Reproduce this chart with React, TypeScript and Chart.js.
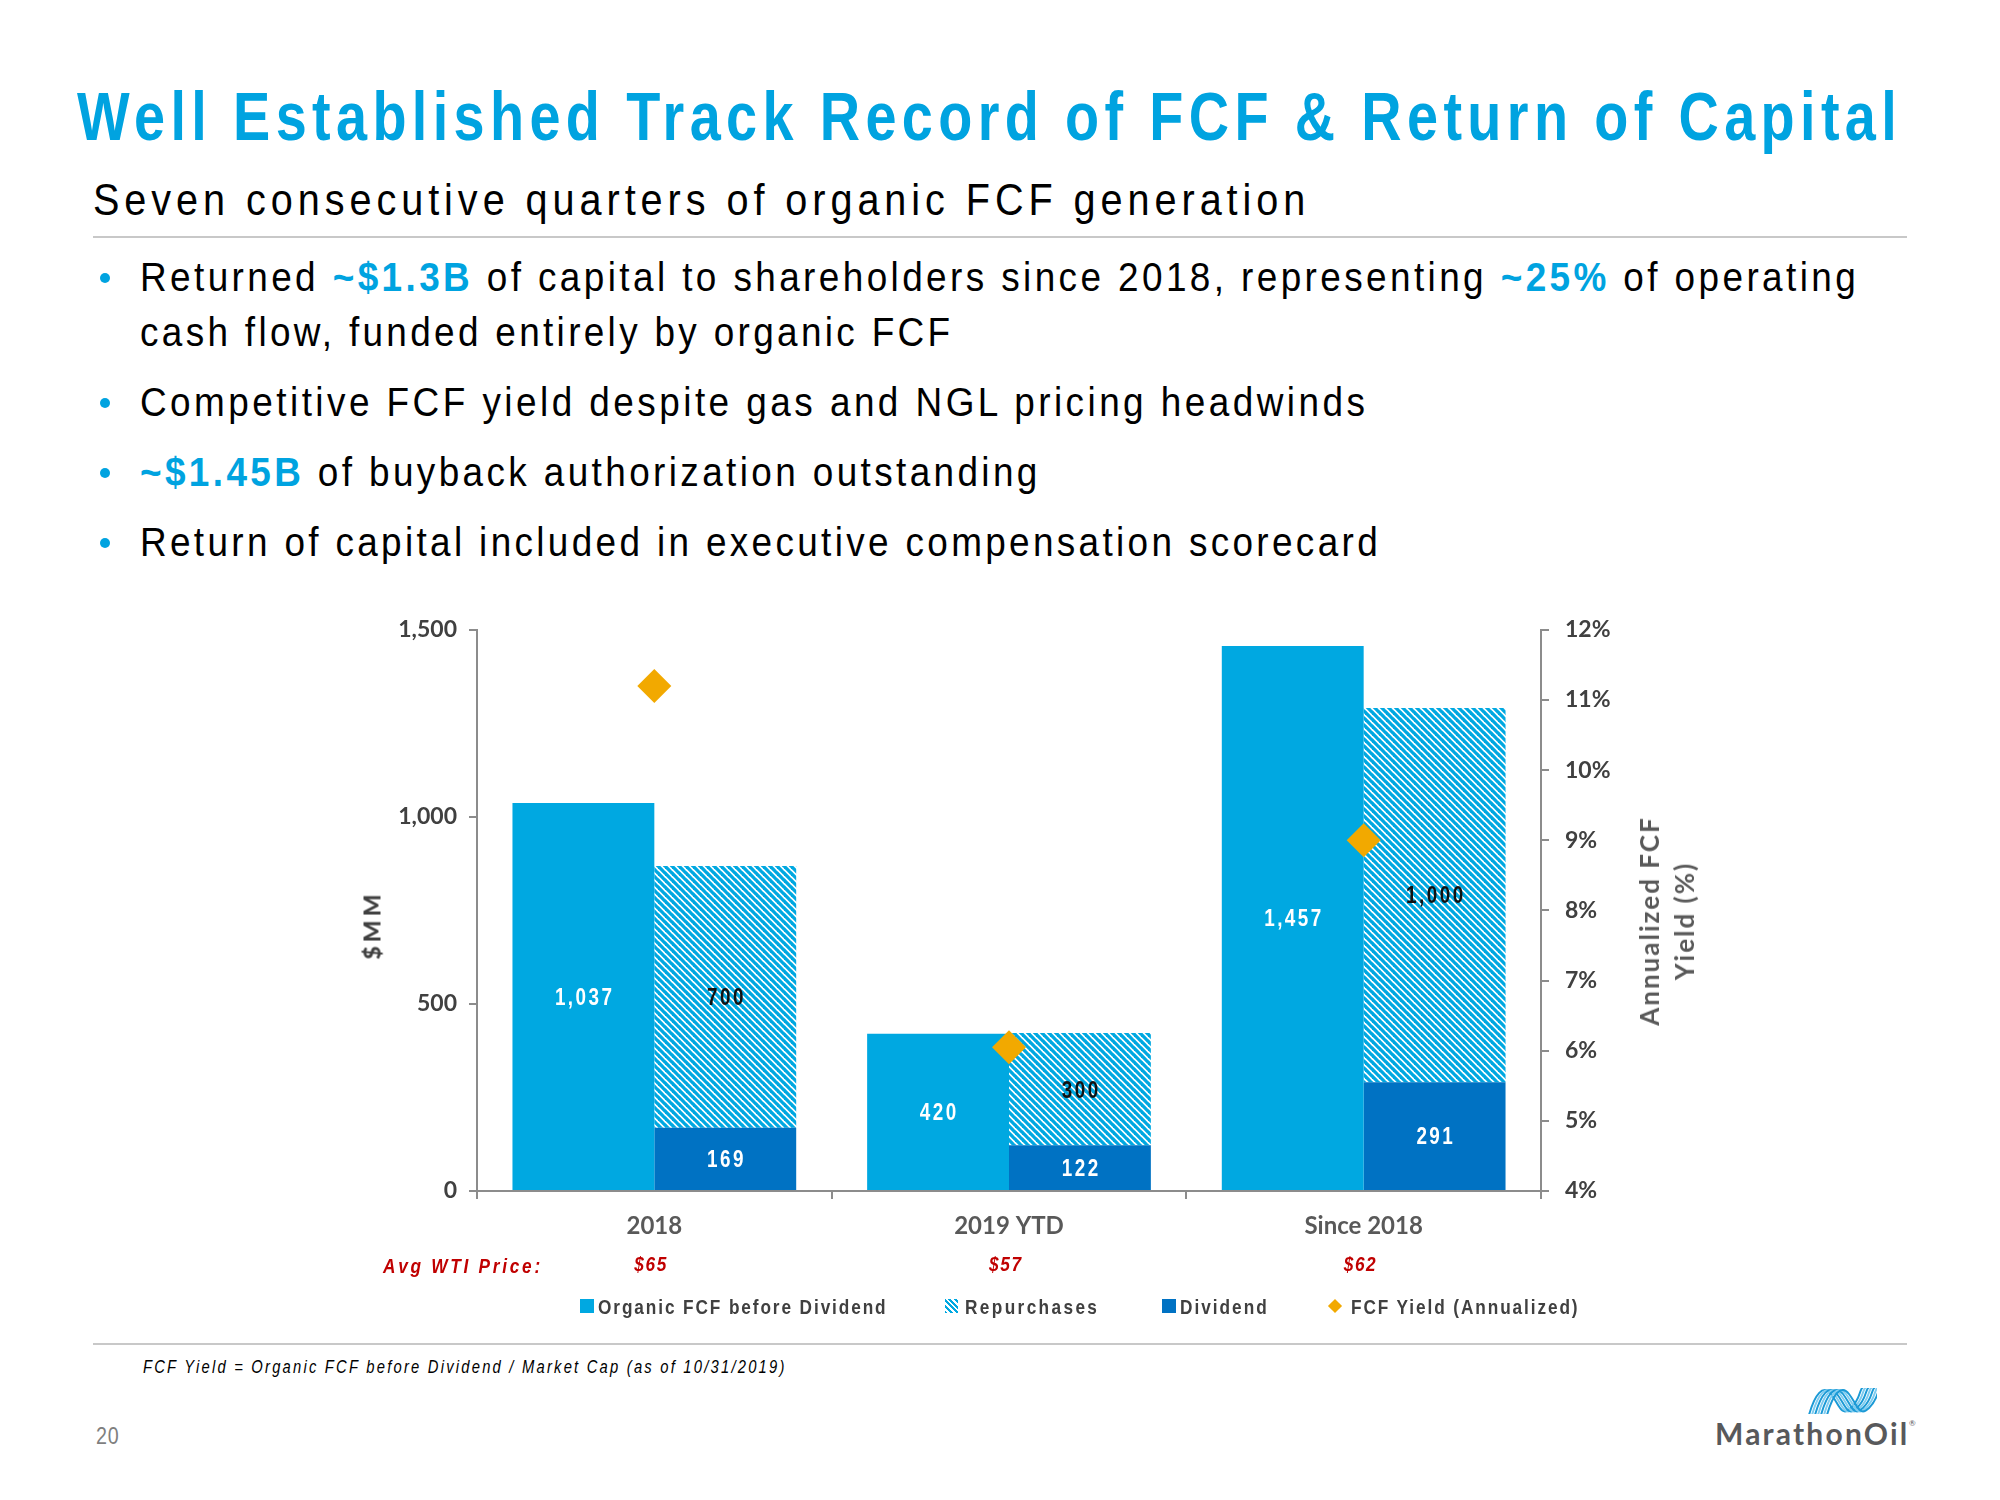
import React, { useEffect, useLayoutEffect, useRef } from "react";
import { Chart, registerables } from "chart.js";

Chart.register(...registerables);

// ---------- data ----------
const categories = ["2018", "2019 YTD", "Since 2018"];
const organicFcf = [1037, 420, 1457];
const dividends = [169, 122, 291];
const repurchases = [700, 300, 1000];
const fcfYield = [11.2, 6.05, 9.0];
const wtiPrices = ["$65", "$57", "$62"];
const leftAxisRange = [0, 1500, 500];
const rightAxisRange = [4, 12, 1];

// ---------- styles ----------
const CYAN = "#00A8E1";
const DARK = "#0072C3";
const GOLD = "#F2A900";
const TITLE_BLUE = "#00A3E0";
const AXIS = "#8C8C8C";
const RED = "#C00000";
const NARROW = '"Liberation Sans Narrow", "Arial Narrow", "Liberation Sans", Arial, sans-serif';
const CAL = 'Lato, "Open Sans", sans-serif';
const SQUEEZE = 0.82;
const BODY_SQUEEZE = 0.9;

type FitProps = {
  x: number; y: number; w: number; size: number; weight?: number; italic?: boolean;
  color?: string; family?: string; squeeze?: number; children: React.ReactNode;
};

function Fit({ x, y, w, size, weight = 400, italic = false, color = "#000", family = NARROW, squeeze = SQUEEZE, children }: FitProps) {
  const ref = useRef<HTMLDivElement>(null);
  useLayoutEffect(() => {
    const el = ref.current;
    if (!el) return;
    el.style.letterSpacing = "0px";
    const natural = el.offsetWidth;
    const n = (el.textContent || "").length;
    const ls = n > 1 ? (w / squeeze - natural) / (n - 1) : 0;
    el.style.letterSpacing = ls + "px";
  }, [w, squeeze]);
  return (
    <div
      ref={ref}
      style={{
        position: "absolute", left: x, top: y, transform: `translateY(-50%) scaleX(${squeeze})`,
        transformOrigin: "left center",
        fontSize: size, lineHeight: 1, whiteSpace: "pre", fontFamily: family,
        fontWeight: weight, fontStyle: italic ? "italic" : "normal", color,
      }}
    >
      {children}
    </div>
  );
}

function makeHatch(ctx: CanvasRenderingContext2D) {
  const p = 7;
  const c = document.createElement("canvas");
  c.width = p; c.height = p;
  const g = c.getContext("2d")!;
  g.fillStyle = "#ffffff";
  g.fillRect(0, 0, p, p);
  g.strokeStyle = CYAN;
  g.lineWidth = 3.3;
  for (const k of [-p, 0, p]) {
    g.beginPath();
    g.moveTo(k - 1, -1);
    g.lineTo(k + p + 1, p + 1);
    g.stroke();
  }
  return ctx.createPattern(c, "repeat")!;
}

function narrowText(ctx: CanvasRenderingContext2D, text: string, x: number, y: number, font: string, spacing: number, color: string) {
  ctx.save();
  ctx.font = font;
  (ctx as any).letterSpacing = spacing + "px";
  ctx.fillStyle = color;
  ctx.textAlign = "center";
  ctx.textBaseline = "middle";
  ctx.translate(x, y);
  ctx.scale(SQUEEZE, 1);
  ctx.fillText(text, spacing / 2, 0);
  ctx.restore();
}

const labelColors: Record<string, string> = {
  "Organic FCF before Dividend": "#ffffff",
  Dividend: "#ffffff",
  Repurchases: "#111111",
};

const barLabelPlugin = {
  id: "barLabels",
  afterDatasetsDraw(chart: any) {
    const ctx = chart.ctx as CanvasRenderingContext2D;
    chart.data.datasets.forEach((ds: any, di: number) => {
      if (ds.type === "line") return;
      const meta = chart.getDatasetMeta(di);
      meta.data.forEach((el: any, i: number) => {
        const v = ds.data[i];
        const { x, y, base } = el.getProps(["x", "y", "base"], true);
        narrowText(ctx, Number(v).toLocaleString("en-US"), x, (y + base) / 2 + 2, `bold 23px ${NARROW}`, 3, labelColors[ds.label] || "#fff");
      });
    });
  },
};

const wtiPlugin = {
  id: "wtiRow",
  afterDraw(chart: any) {
    const ctx = chart.ctx as CanvasRenderingContext2D;
    const xs = chart.scales.x;
    wtiPrices.forEach((p, i) => {
      narrowText(ctx, p, xs.getPixelForValue(i) - 4, chart.chartArea.bottom + 74, `italic bold 21px ${NARROW}`, 2, RED);
    });
  },
};

function FcfChart() {
  const ref = useRef<HTMLCanvasElement>(null);
  useEffect(() => {
    const canvas = ref.current!;
    const ctx = canvas.getContext("2d")!;
    const hatch = makeHatch(ctx);
    const tickFont = { family: CAL, size: 23, weight: "bold" as const };
    const chart = new Chart(canvas, {
      type: "bar",
      data: {
        labels: categories,
        datasets: [
          {
            type: "line" as any,
            label: "FCF Yield (Annualized)",
            data: fcfYield,
            yAxisID: "y2",
            showLine: false,
            pointStyle: "rectRot",
            pointRadius: 17,
            pointHoverRadius: 17,
            backgroundColor: GOLD,
            borderColor: GOLD,
            borderWidth: 0,
            order: 0,
          } as any,
          { label: "Organic FCF before Dividend", data: organicFcf, backgroundColor: CYAN, stack: "fcf", order: 1 },
          { label: "Dividend", data: dividends, backgroundColor: DARK, stack: "ret", order: 1 },
          { label: "Repurchases", data: repurchases, backgroundColor: hatch as any, stack: "ret", order: 1 },
        ],
      },
      options: {
        animation: false,
        responsive: false,
        maintainAspectRatio: false,
        layout: { padding: { top: 25, left: 0, right: 0, bottom: 0 } },
        datasets: { bar: { barPercentage: 1, categoryPercentage: 0.8 } },
        plugins: { legend: { display: false }, tooltip: { enabled: false } },
        scales: {
          x: {
            stacked: true,
            grid: { display: true, drawOnChartArea: false, drawTicks: true, tickLength: 8, color: AXIS, lineWidth: 2, offset: true },
            border: { color: AXIS, width: 2 },
            ticks: { font: { family: CAL, size: 24, weight: "bold" }, color: "#595959", padding: 13 },
            afterFit: (s: any) => { s.height = 109; },
          },
          y: {
            stacked: true,
            position: "left",
            min: leftAxisRange[0],
            max: leftAxisRange[1],
            ticks: {
              stepSize: leftAxisRange[2],
              callback: (v: any) => Number(v).toLocaleString("en-US"),
              font: tickFont, color: "#404040", padding: 12,
            },
            grid: { drawOnChartArea: false, tickLength: 8, color: AXIS, lineWidth: 2 },
            border: { color: AXIS, width: 2 },
            afterFit: (s: any) => { s.width = 197; },
          },
          y2: {
            position: "right",
            min: rightAxisRange[0],
            max: rightAxisRange[1],
            ticks: {
              stepSize: rightAxisRange[2],
              callback: (v: any) => `${v}%`,
              font: tickFont, color: "#404040", padding: 16,
            },
            grid: { drawOnChartArea: false, tickLength: 8, color: AXIS, lineWidth: 2 },
            border: { color: AXIS, width: 2 },
            afterFit: (s: any) => { s.width = 219; },
          },
        },
      },
      plugins: [barLabelPlugin, wtiPlugin],
    });
    return () => chart.destroy();
  }, []);
  return (
    <canvas
      ref={ref}
      width={1480}
      height={700}
      style={{ position: "absolute", left: 280, top: 600, width: 1480, height: 700 }}
    />
  );
}

function Bullet({ y }: { y: number }) {
  return (
    <div style={{ position: "absolute", left: 100, top: y - 5, width: 10, height: 10, borderRadius: 5, background: TITLE_BLUE }} />
  );
}

function Logo() {
  const paths: React.ReactNode[] = [];
  for (let j = 0; j < 7; j++) {
    const d = j * 3;
    paths.push(
      <path
        key={j}
        d={`M ${2 + d} 27 C ${8 + d} 6, ${16 + d} -4, ${24 + d} 6 S ${34 + d} 30, ${44 + d} 20 S ${52 + d} 2, ${56 + d} -1`}
        stroke={j % 2 === 0 ? "#1C9AD6" : "#7FCCEF"}
        strokeWidth={2}
        fill="none"
      />
    );
  }
  return (
    <svg width={70} height={26} viewBox="0 0 70 26" style={{ position: "absolute", left: 1807, top: 1388 }}>
      <defs>
        <clipPath id="lc"><rect x="0" y="0" width="70" height="26" /></clipPath>
      </defs>
      <g clipPath="url(#lc)">{paths}</g>
    </svg>
  );
}

export default function App() {
  const blue = { color: TITLE_BLUE, fontWeight: 700 };
  return (
    <div style={{ position: "absolute", left: 0, top: 0, width: 2000, height: 1500, background: "#fff", overflow: "hidden" }}>
      <Fit x={77} y={116} w={1820} size={68} weight={700} color={TITLE_BLUE}>
        Well Established Track Record of FCF &amp; Return of Capital
      </Fit>
      <Fit x={93} y={200} w={1212} size={44} color="#000" squeeze={BODY_SQUEEZE}>
        Seven consecutive quarters of organic FCF generation
      </Fit>
      <div style={{ position: "absolute", left: 93, top: 236, width: 1814, height: 2, background: "#C8C8C8" }} />

      <Bullet y={278} />
      <Fit x={140} y={277} w={1716} size={41} squeeze={BODY_SQUEEZE}>
        Returned <span style={blue}>~$1.3B</span> of capital to shareholders since 2018, representing <span style={blue}>~25%</span> of operating
      </Fit>
      <Fit x={140} y={332} w={810} size={41} squeeze={BODY_SQUEEZE}>
        cash flow, funded entirely by organic FCF
      </Fit>
      <Bullet y={403} />
      <Fit x={140} y={402} w={1225} size={41} squeeze={BODY_SQUEEZE}>
        Competitive FCF yield despite gas and NGL pricing headwinds
      </Fit>
      <Bullet y={473} />
      <Fit x={140} y={472} w={897} size={41} squeeze={BODY_SQUEEZE}>
        <span style={blue}>~$1.45B</span> of buyback authorization outstanding
      </Fit>
      <Bullet y={543} />
      <Fit x={140} y={542} w={1238} size={41} squeeze={BODY_SQUEEZE}>
        Return of capital included in executive compensation scorecard
      </Fit>

      <FcfChart />

      <div
        style={{
          position: "absolute", left: 372, top: 925, transform: "translate(-50%, -50%) rotate(-90deg)",
          fontFamily: CAL, fontWeight: 900, fontSize: 23, letterSpacing: 4, color: "#404040", whiteSpace: "pre", lineHeight: 1,
        }}
      >
        $MM
      </div>
      <div
        style={{
          position: "absolute", left: 1667, top: 921, transform: "translate(-50%, -50%) rotate(-90deg)",
          fontFamily: CAL, fontWeight: 700, fontSize: 26, letterSpacing: 2, color: "#595959", whiteSpace: "pre",
          lineHeight: "35px", textAlign: "center",
        }}
      >
        {"Annualized FCF\nYield (%)"}
      </div>

      <Fit x={383} y={1265} w={157} size={21} weight={700} italic color={RED}>
        Avg WTI Price:
      </Fit>

      {/* legend */}
      <div style={{ position: "absolute", left: 580, top: 1299, width: 14, height: 14, background: CYAN }} />
      <Fit x={598} y={1306} w={288} size={21} weight={700} color="#404040">Organic FCF before Dividend</Fit>
      <div
        style={{
          position: "absolute", left: 945, top: 1299, width: 13, height: 14,
          background: `repeating-linear-gradient(45deg, ${CYAN} 0px, ${CYAN} 2px, #fff 2px, #fff 4px)`,
        }}
      />
      <Fit x={965} y={1306} w={132} size={21} weight={700} color="#404040">Repurchases</Fit>
      <div style={{ position: "absolute", left: 1162, top: 1299, width: 14, height: 14, background: DARK }} />
      <Fit x={1180} y={1306} w={87} size={21} weight={700} color="#404040">Dividend</Fit>
      <div style={{ position: "absolute", left: 1330, top: 1301, width: 10, height: 10, background: GOLD, transform: "rotate(45deg)" }} />
      <Fit x={1351} y={1306} w={227} size={21} weight={700} color="#404040">FCF Yield (Annualized)</Fit>

      <div style={{ position: "absolute", left: 93, top: 1343, width: 1814, height: 2, background: "#C8C8C8" }} />
      <Fit x={143} y={1367} w={641} size={18} italic color="#000">
        FCF Yield = Organic FCF before Dividend / Market Cap (as of 10/31/2019)
      </Fit>
      <Fit x={96} y={1436} w={23} size={24} color="#7F7F7F">20</Fit>

      <Logo />
      <Fit x={1715} y={1433} w={192} size={30} weight={700} color="#58595B" family={CAL} squeeze={1}>
        MarathonOil
      </Fit>
      <div style={{ position: "absolute", left: 1909, top: 1418, fontSize: 8, fontFamily: CAL, color: "#58595B" }}>®</div>
    </div>
  );
}
